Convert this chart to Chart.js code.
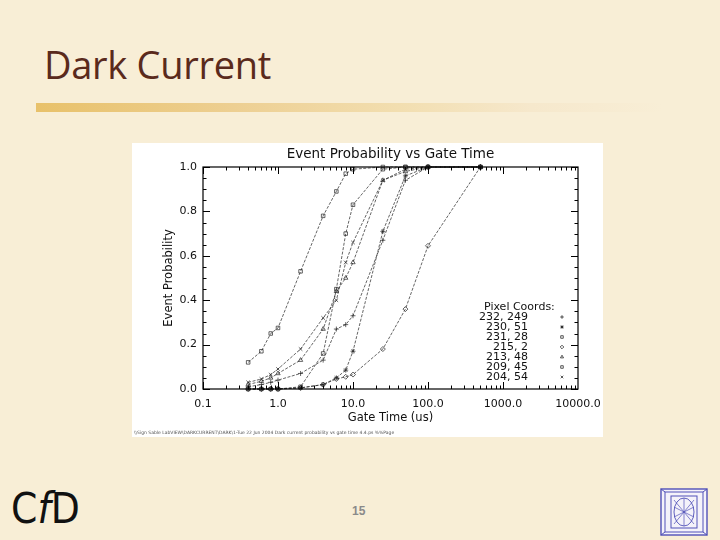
<!DOCTYPE html>
<html>
<head>
<meta charset="utf-8">
<script src="https://cdn.jsdelivr.net/npm/chart.js@4.4.0/dist/chart.umd.min.js"></script>
<style>
  html, body { margin: 0; padding: 0; }
  body { width: 720px; height: 540px; background: #F8EED6; position: relative; overflow: hidden; }
  #title { position: absolute; left: 44px; top: 38px; font-family: "Open Sans", Lato, sans-serif; font-size: 38px; color: #5A2A1C; letter-spacing: -0.3px; white-space: nowrap; }
  #bar { position: absolute; left: 36px; top: 103px; width: 660px; height: 9px;
         background: linear-gradient(to right, #E8C16A 0%, #EDCF92 30%, #F2DEB0 55%, #F6E8CC 75%, rgba(248,238,214,0) 95%); }
  #panel { position: absolute; left: 132px; top: 143px; width: 471px; height: 294px; background: #FFFFFF; }
  #chart { position: absolute; left: 0; top: 0; }
  #path { position: absolute; left: 134px; top: 430px; font-family: "DejaVu Sans", sans-serif; font-size: 4.5px; color: #555; white-space: nowrap; }
  #logo { position: absolute; left: 11px; top: 484px; font-family: "Liberation Sans Narrow", "DejaVu Sans Condensed", "Liberation Sans", sans-serif; font-size: 42px; color: #111; white-space: nowrap; }
  #logo i { font-style: italic; }
  #page { position: absolute; left: 352px; top: 504px; font-family: "Liberation Sans", Arial, sans-serif; font-size: 12px; font-weight: bold; color: #8A8A8A; }
  #icon { position: absolute; left: 659px; top: 487px; }
</style>
</head>
<body>
<div id="title">Dark Current</div>
<div id="bar"></div>
<div id="panel">
  <canvas id="chart" width="471" height="294"></canvas>
</div>
<div id="path">\\Sign Sable  LabVIEW\DARKCURRENT\DARK\1-Tue 22 Jun 2004 Dark current probability vs gate time 4.4.ps  %%Page</div>
<div id="logo">C<i>f</i>D</div>
<div id="page">15</div>
<svg id="icon" width="50" height="50" viewBox="0 0 50 50">
  <rect x="2" y="2" width="46" height="46" fill="#F4F2FA" stroke="#5050B8" stroke-width="1.4"/>
  <rect x="6" y="5" width="38" height="40" fill="none" stroke="#5050B8" stroke-width="1"/>
  <rect x="12" y="9" width="26" height="32" fill="none" stroke="#5050B8" stroke-width="1"/>
  <ellipse cx="25" cy="25" rx="10" ry="14" fill="none" stroke="#5050B8" stroke-width="0.9"/>
  <path d="M15 13 L35 37 M35 13 L15 37 M15 20 L35 30 M35 20 L15 30 M25 11 L25 39" stroke="#5050B8" stroke-width="0.7" fill="none"/>
  <path d="M2 2 L6 5 M48 2 L44 5 M2 48 L6 45 M48 48 L44 45" stroke="#5050B8" stroke-width="1"/>
</svg>
<script>
// ---- data ----
const gateTimes = [0.4, 0.6, 0.8, 1, 2, 4, 6, 8, 10, 25, 50, 100, 500];
const seriesLabels = ["232, 249", "230, 51", "231, 28", "215, 2", "213, 48", "209, 45", "204, 54"];
const pix232_249 = [0.01, 0.02, 0.03, 0.04, 0.07, 0.13, 0.27, 0.29, 0.33, 0.67, 0.94, 1.00, 1.00];
const pix230_51  = [0.00, 0.00, 0.00, 0.00, 0.005, 0.02, 0.05, 0.085, 0.17, 0.71, 0.96, 1.00, 1.00];
const pix231_28  = [0.12, 0.17, 0.25, 0.275, 0.53, 0.78, 0.89, 0.97, 0.99, 1.00, 1.00, 1.00, 1.00];
const pix215_2   = [0.00, 0.00, 0.00, 0.00, 0.005, 0.02, 0.045, 0.055, 0.065, 0.18, 0.36, 0.645, 1.00];
const pix213_48  = [0.02, 0.035, 0.05, 0.07, 0.13, 0.27, 0.44, 0.50, 0.57, 0.94, 0.98, 1.00, 1.00];
const pix209_45  = [0.00, 0.00, 0.00, 0.00, 0.01, 0.16, 0.45, 0.70, 0.83, 0.99, 1.00, 1.00, 1.00];
const pix204_54  = [0.03, 0.045, 0.065, 0.09, 0.18, 0.32, 0.40, 0.57, 0.66, 0.94, 0.99, 1.00, 1.00];
const xTickValues = [0.1, 1, 10, 100, 1000, 10000];
const xTickLabels = ["0.1", "1.0", "10.0", "100.0", "1000.0", "10000.0"];
const yTickValues = [0.0, 0.2, 0.4, 0.6, 0.8, 1.0];
const yTickLabels = ["0.0", "0.2", "0.4", "0.6", "0.8", "1.0"];

const allSeries = [pix232_249, pix230_51, pix231_28, pix215_2, pix213_48, pix209_45, pix204_54];
const pointStyles = ["cross", "star", "rect", "rectRot", "triangle", "rect", "crossRot"];

const datasets = allSeries.map((vals, i) => ({
  label: seriesLabels[i],
  data: gateTimes.map((t, k) => ({ x: t, y: vals[k] })),
  showLine: true,
  borderColor: "#222",
  borderWidth: 0.7,
  borderDash: [3, 1.5],
  pointStyle: pointStyles[i],
  pointRadius: 2.5,
  pointBorderColor: "#222",
  pointBorderWidth: 0.7,
  pointBackgroundColor: "rgba(255,255,255,0)",
  clip: 4
}));

const FONT = "DejaVu Sans, sans-serif";

const idlDecor = {
  id: "idlDecor",
  afterDraw(chart) {
    const ctx = chart.ctx;
    const a = chart.chartArea;
    const xs = chart.scales.x, ys = chart.scales.y;
    ctx.save();
    ctx.strokeStyle = "#000";
    ctx.lineWidth = 1.2;
    ctx.strokeRect(a.left, a.top, a.right - a.left, a.bottom - a.top);
    ctx.lineWidth = 1;
    ctx.beginPath();
    for (let e = -1; e <= 3; e++) {
      for (let m = 1; m <= 9; m++) {
        const v = m * Math.pow(10, e);
        const px = Math.round(xs.getPixelForValue(v)) + 0.5;
        const len = m === 1 ? 7 : 3.5;
        ctx.moveTo(px, a.bottom); ctx.lineTo(px, a.bottom - len);
        ctx.moveTo(px, a.top); ctx.lineTo(px, a.top + len);
      }
    }
    for (let k = 0; k <= 20; k++) {
      const v = k * 0.05;
      const py = Math.round(ys.getPixelForValue(v)) + 0.5;
      const len = k % 4 === 0 ? 7 : 3.5;
      ctx.moveTo(a.left, py); ctx.lineTo(a.left + len, py);
      ctx.moveTo(a.right, py); ctx.lineTo(a.right - len, py);
    }
    ctx.stroke();

    ctx.fillStyle = "#111";
    ctx.font = "13.5px " + FONT;
    ctx.textAlign = "center";
    ctx.textBaseline = "middle";
    ctx.fillText("Event Probability vs Gate Time", (a.left + a.right) / 2, 11);

    ctx.font = "11px " + FONT;
    ctx.textAlign = "left";
    ctx.fillText("Pixel Coords:", a.left + 281, a.top + 140);
    ctx.textAlign = "right";
    for (let i = 0; i < seriesLabels.length; i++) {
      const y = a.top + 150 + i * 10;
      ctx.fillStyle = "#111";
      ctx.fillText(seriesLabels[i], a.left + 325, y);
      if (Chart.helpers && Chart.helpers.drawPoint) {
        ctx.strokeStyle = "#111";
        ctx.lineWidth = 0.7;
        ctx.fillStyle = "rgba(255,255,255,0)";
        Chart.helpers.drawPoint(ctx, { pointStyle: pointStyles[i], radius: 1.8, rotation: 0, borderWidth: 0.7 }, a.left + 359, y);
      }
    }
    ctx.restore();
  }
};

new Chart(document.getElementById("chart"), {
  type: "scatter",
  data: { datasets },
  options: {
    responsive: false,
    animation: false,
    layout: { padding: { left: 0, right: 25, top: 24, bottom: 0 } },
    plugins: { legend: { display: false }, tooltip: { enabled: false }, title: { display: false } },
    scales: {
      x: {
        type: "logarithmic",
        min: 0.1, max: 10000,
        afterBuildTicks(scale) { scale.ticks = xTickValues.map(v => ({ value: v })); },
        afterFit(scale) { scale.height = 48; scale.paddingLeft = 0; scale.paddingRight = 0; },
        ticks: {
          autoSkip: false, maxRotation: 0, padding: 9, color: "#111",
          font: { family: FONT, size: 11 },
          callback: (v) => { const i = xTickValues.indexOf(v); return i >= 0 ? xTickLabels[i] : ""; }
        },
        grid: { display: false, drawTicks: false },
        border: { display: false },
        title: { display: true, text: "Gate Time (us)", color: "#111", font: { family: FONT, size: 11.5 }, padding: { top: 0, bottom: 12 } }
      },
      y: {
        min: 0, max: 1,
        afterBuildTicks(scale) { scale.ticks = yTickValues.map(v => ({ value: v })); },
        afterFit(scale) { scale.width = 71; scale.paddingTop = 0; scale.paddingBottom = 0; },
        ticks: {
          padding: 6, color: "#111",
          font: { family: FONT, size: 11 },
          callback: (v) => { const i = yTickValues.findIndex(t => Math.abs(t - v) < 1e-9); return i >= 0 ? yTickLabels[i] : ""; }
        },
        grid: { display: false, drawTicks: false },
        border: { display: false },
        title: { display: true, text: "Event Probability", color: "#111", font: { family: FONT, size: 11.5 }, padding: { top: 30, bottom: 0 } }
      }
    }
  },
  plugins: [idlDecor]
});
</script>
</body>
</html>
